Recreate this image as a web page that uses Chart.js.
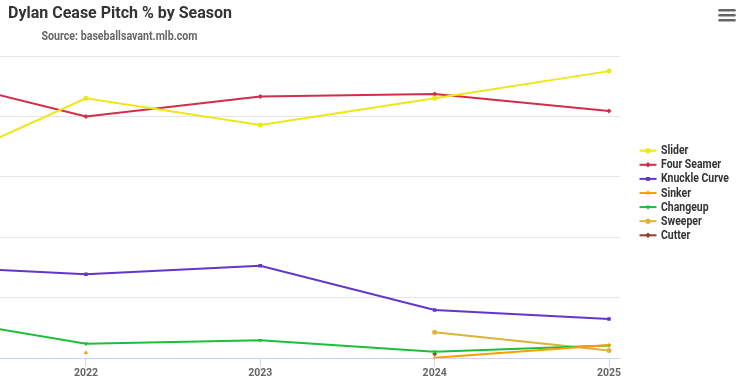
<!DOCTYPE html>
<html>
<head>
<meta charset="utf-8">
<script src="https://cdn.jsdelivr.net/npm/chart.js@4"></script>
<style>
html,body{margin:0;padding:0;background:#fff;}
#wrap{width:739px;height:379px;position:relative;}
</style>
</head>
<body>
<div id="wrap"><canvas id="c" width="739" height="379"></canvas></div>
<script>
// ---- data ----
const seasons = [2021, 2022, 2023, 2024, 2025];
const tickYears = [2022, 2023, 2024, 2025];
const seriesNames = ['Slider', 'Four Seamer', 'Knuckle Curve', 'Sinker', 'Changeup', 'Sweeper', 'Cutter'];
const slider       = [30.0, 43.0, 38.6, 43.0, 47.5];
const fourSeamer   = [47.1, 40.0, 43.3, 43.7, 40.9];
const knuckleCurve = [15.3, 13.9, 15.3, 8.0, 6.5];
const sinker       = [null, 0.9, null, 0.1, 2.2];
const changeup     = [7.3, 2.4, 3.0, 1.1, 2.1];
const sweeper      = [null, null, null, 4.3, 1.3];
const cutter       = [null, null, null, 0.7, null];

const seriesValues = [slider, fourSeamer, knuckleCurve, sinker, changeup, sweeper, cutter];
const colors = ['#EEE716', '#D22D49', '#6236CD', '#FE9D00', '#1DBE3A', '#DDB33A', '#933F2C'];
const pointStyles = ['circle', 'rectRot', 'rect', 'triangle', 'triangle', 'circle', 'rectRot'];
const pointRotations = [0, 0, 0, 0, 180, 0, 0];

const FONT = 'Roboto, "Noto Sans", sans-serif';

const datasets = seriesNames.map((name, i) => ({
  label: name,
  data: seasons.map((s, j) => ({ x: s, y: seriesValues[i][j] })),
  borderColor: colors[i],
  backgroundColor: colors[i],
  borderWidth: 2,
  pointStyle: pointStyles[i],
  pointRotation: pointRotations[i],
  pointRadius: 2.5,
  pointBorderWidth: 0,
  pointBackgroundColor: colors[i],
  pointBorderColor: colors[i],
  tension: 0,
  spanGaps: false
}));

function drawNarrow(ctx, text, x, y, font, targetWidth, scaleOverride) {
  ctx.save();
  ctx.font = font;
  const w = ctx.measureText(text).width;
  const s = scaleOverride || (targetWidth / w);
  ctx.translate(x, y);
  ctx.scale(s, 1);
  ctx.fillText(text, 0, 0);
  ctx.restore();
  return s;
}

const decorPlugin = {
  id: 'decor',
  afterDraw(chart) {
    const ctx = chart.ctx;
    ctx.save();
    ctx.textAlign = 'left';
    ctx.textBaseline = 'alphabetic';
    // title
    ctx.fillStyle = '#333333';
    drawNarrow(ctx, 'Dylan Cease Pitch % by Season', 8, 17.5, 'bold 17px ' + FONT, 224);
    // subtitle
    ctx.fillStyle = '#666666';
    drawNarrow(ctx, 'Source: baseballsavant.mlb.com', 41.5, 40, 'bold 12.5px ' + FONT, 156);
    // menu icon
    ctx.strokeStyle = '#666666';
    ctx.lineWidth = 2.5;
    ctx.lineCap = 'round';
    [10.3, 15.3, 20.3].forEach(y => {
      ctx.beginPath();
      ctx.moveTo(719.5, y);
      ctx.lineTo(734.5, y);
      ctx.stroke();
    });
    // legend
    ctx.lineCap = 'butt';
    const lf = 'bold 12px ' + FONT;
    ctx.font = lf;
    const legScale = 68 / ctx.measureText('Knuckle Curve').width;
    chart.data.datasets.forEach((ds, i) => {
      const y = 150.7 + i * 14.1;
      ctx.strokeStyle = ds.borderColor;
      ctx.lineWidth = 2;
      ctx.beginPath();
      ctx.moveTo(639.5, y);
      ctx.lineTo(656.5, y);
      ctx.stroke();
      ctx.fillStyle = ds.borderColor;
      Chart.helpers.drawPoint(ctx, { pointStyle: ds.pointStyle, rotation: ds.pointRotation, radius: 2.5, borderWidth: 0 }, 648, y);
      ctx.fill();
      ctx.fillStyle = '#333333';
      ctx.textBaseline = 'middle';
      drawNarrow(ctx, ds.label, 661, y + 0.5, lf, 0, legScale);
    });
    ctx.restore();
  }
};

new Chart(document.getElementById('c'), {
  type: 'line',
  data: { datasets },
  plugins: [decorPlugin],
  options: {
    responsive: false,
    animation: false,
    devicePixelRatio: 1,
    layout: { autoPadding: false, padding: { left: 0, right: 119, top: 56, bottom: 0 } },
    plugins: {
      legend: { display: false },
      title: { display: false },
      tooltip: { enabled: false }
    },
    scales: {
      x: {
        type: 'linear',
        min: 2021.507,
        max: 2025.063,
        afterBuildTicks: (scale) => { scale.ticks = tickYears.map(v => ({ value: v })); },
        afterFit: (scale) => { scale.height = 20.7; scale.paddingLeft = 0; scale.paddingRight = 0; },
        ticks: {
          callback: (v) => String(v),
          color: '#666666',
          font: { family: FONT, size: 10.5, weight: 'bold', lineHeight: 1 },
          padding: 2,
          maxRotation: 0,
          autoSkip: false
        },
        grid: { drawOnChartArea: false, drawTicks: true, tickLength: 8, tickColor: '#ccd6eb', tickWidth: 1 },
        border: { display: true, color: '#ccd6eb', width: 1 }
      },
      y: {
        min: 0,
        max: 50,
        afterFit: (scale) => { scale.width = 0; scale.paddingTop = 0; scale.paddingBottom = 0; },
        ticks: { display: false, stepSize: 10 },
        grid: {
          drawTicks: false,
          color: (c) => (c.tick && c.tick.value === 0) ? 'rgba(0,0,0,0)' : '#e6e6e6',
          lineWidth: 1
        },
        border: { display: false }
      }
    }
  }
});
</script>
</body>
</html>
